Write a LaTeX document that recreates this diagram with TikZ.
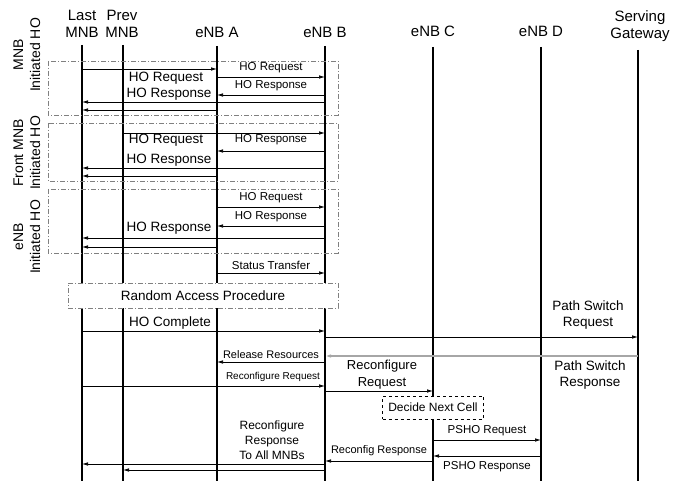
\documentclass[tikz,border=0pt]{standalone}
\usepackage{fontspec}
\setmainfont{Liberation Sans}
\usetikzlibrary{arrows.meta}

\begin{document}
\begin{tikzpicture}[x=1pt, y=-1pt,
  life/.style={line width=1.8pt},
  msg/.style={line width=0.7pt, -{Latex[length=6pt, width=3.5pt]}},
  grp/.style={draw=gray, line width=0.7pt, dash pattern=on 5pt off 2pt on 1pt off 2pt},
  hdr/.style={font=\fontsize{15}{17}\selectfont, align=center},
  side/.style={font=\fontsize{14}{17}\selectfont, align=center, rotate=90},
  big/.style={font=\fontsize{13.5}{16}\selectfont, align=center},
  lbl/.style={font=\fontsize{11.5}{13}\selectfont, align=center}]

\useasboundingbox (0,0) rectangle (678,481);

% Headers
\node[hdr] (lmT) at (82,24) {Last\\MNB};
\node[hdr] (pmT) at (122,24) {Prev\\MNB};
\node[hdr] (eaT) at (217,32) {eNB A};
\node[hdr] (ebT) at (325,32) {eNB B};
\node[hdr] (ecT) at (433,31) {eNB C};
\node[hdr] (edT) at (541,31) {eNB D};
\node[hdr] (sgT) at (640,26) {Serving\\Gateway};

% Lifelines
\foreach \n/\x/\t in {lm/82/45, pm/123/45, ea/217/46, eb/325/46, ec/433/47, ed/541/47, sg/638/50} {
  \coordinate (\n) at (\x,\t);
  \draw[life] (\n) -- (\x,481);
}

% Groups
\draw[grp] (48,61) rectangle (338,115);
\draw[grp] (48,123) rectangle (338,181);
\draw[grp] (48,189) rectangle (338,253);
\node[side] (g1) at (27,55) {MNB\\Initiated HO};
\node[side] (g2) at (27,153) {Front MNB\\Initiated HO};
\node[side] (g3) at (27,237) {eNB\\Initiated HO};

% MNB initiated
\draw[msg] (lm |- 0,69) -- (ea |- 0,69);
\draw[msg] (ea |- 0,77) -- (eb |- 0,77) node[lbl, midway, above] {HO Request};
\draw[msg] (eb |- 0,95) -- (ea |- 0,95) node[lbl, midway, above] {HO Response};
\draw[msg] (eb |- 0,102) -- (lm |- 0,102);
\draw[msg] (ea |- 0,110) -- (lm |- 0,110);
\node[big] (req1) at (166,78) {HO Request};
\node[big] (rsp1) at (169,94) {HO Response};

% Front MNB initiated
\draw[msg] (pm |- 0,133) -- (eb |- 0,133);
\draw[msg] (eb |- 0,151) -- (ea |- 0,151) node[lbl, midway, above, yshift=2pt] {HO Response};
\draw[msg] (eb |- 0,168) -- (lm |- 0,168);
\draw[msg] (ea |- 0,176) -- (lm |- 0,176);
\node[big] (req2) at (166,140) {HO Request};
\node[big] (rsp2) at (169,160) {HO Response};

% eNB initiated
\draw[msg] (ea |- 0,207) -- (eb |- 0,207) node[lbl, midway, above] {HO Request};
\draw[msg] (eb |- 0,226) -- (ea |- 0,226) node[lbl, midway, above] {HO Response};
\draw[msg] (eb |- 0,238) -- (lm |- 0,238);
\draw[msg] (ea |- 0,247) -- (lm |- 0,247);
\node[big] (rsp3) at (169,228) {HO Response};

% Handover completion
\draw[msg] (ea |- 0,273) -- (eb |- 0,273) node[lbl, midway, above] {Status Transfer};
\node[grp, fill=white, big, minimum width=270pt, minimum height=25pt] (rap) at (203,295.5) {Random Access Procedure};
\draw[msg] (lm |- 0,331) -- (eb |- 0,331);
\node[big] (done) at (170,323) {HO Complete};
\draw[msg] (eb |- 0,337) -- (sg |- 0,337);
\node[big] (psreq) at (588,315) {Path Switch\\Request};
\draw[line width=1.5pt, draw=gray!70, -{Latex[length=6pt, width=3.5pt]}] (sg |- 0,356) -- (eb |- 0,356);
\node[big] (psrsp) at (590,375) {Path Switch\\Response};
\draw[msg] (eb |- 0,362) -- (ea |- 0,362) node[lbl, midway, above, font=\fontsize{11}{13}\selectfont] {Release Resources};

% Reconfiguration
\draw[msg] (lm |- 0,386) -- (eb |- 0,386);
\node[lbl, font=\fontsize{10}{12}\selectfont] (rcq) at (273,377) {Reconfigure Request};
\draw[msg] (eb |- 0,391) -- (ec |- 0,391);
\node[big, font=\fontsize{13}{17}\selectfont] (rcq2) at (382,375) {Reconfigure\\Request};
\node[draw, dashed, line width=0.6pt, fill=white, lbl, font=\fontsize{12}{14}\selectfont,
  minimum width=101pt, minimum height=23pt] (next) at (433,407.5) {Decide Next Cell};
\draw[msg] (ec |- 0,440) -- (ed |- 0,440) node[lbl, midway, above] {PSHO Request};
\draw[msg] (ed |- 0,456) -- (ec |- 0,456) node[lbl, midway, below, yshift=-2pt] {PSHO Response};
\draw[msg] (ec |- 0,461) -- (eb |- 0,461) node[lbl, midway, above, yshift=2pt, font=\fontsize{11}{13}\selectfont] {Reconfig Response};
\node[lbl, font=\fontsize{12}{15}\selectfont] (rcall) at (272,440) {Reconfigure\\Response\\To All MNBs};
\draw[msg] (eb |- 0,464) -- (lm |- 0,464);
\draw[msg] (eb |- 0,470) -- (pm |- 0,470);

\end{tikzpicture}
\end{document}
